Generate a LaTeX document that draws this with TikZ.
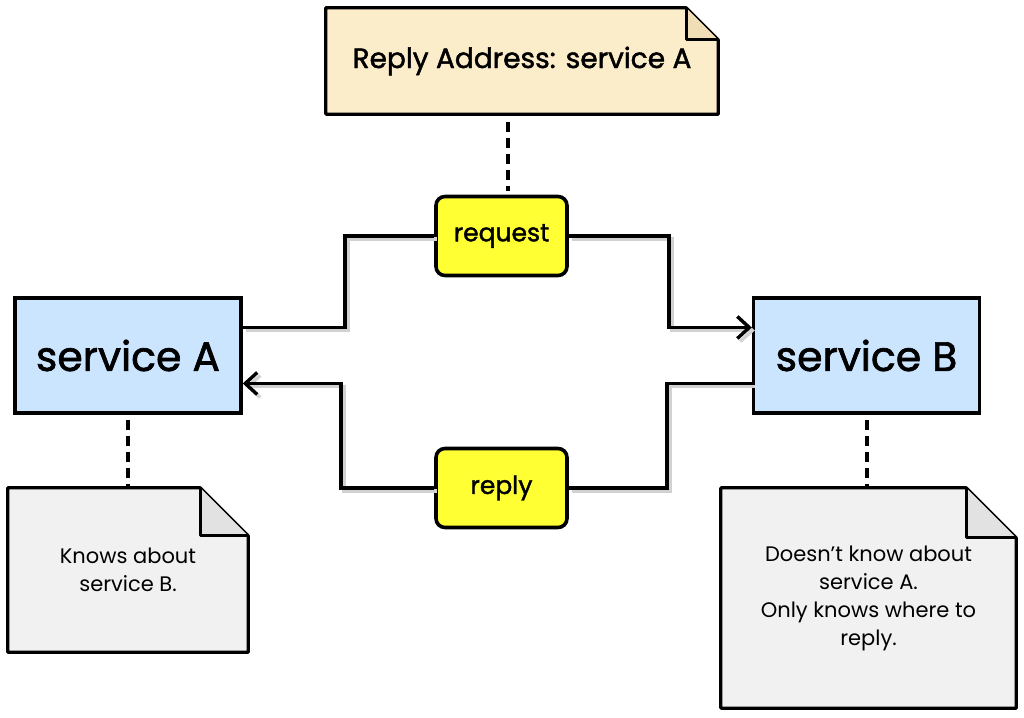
\documentclass[tikz,border=0pt]{standalone}
\usepackage{fontspec}
\setmainfont{Poppins}[BoldFont=Poppins, BoldFeatures={FakeBold=1.6}]
\usetikzlibrary{arrows.meta,calc,backgrounds}

\definecolor{svcblue}{RGB}{204,229,255}
\definecolor{msgyellow}{RGB}{255,255,51}
\definecolor{addrtan}{RGB}{251,236,202}
\definecolor{addrfold}{RGB}{240,222,182}
\definecolor{memogrey}{RGB}{241,241,241}
\definecolor{memofold}{RGB}{226,226,226}

\tikzset{
  svc/.style={draw, line width=3.4pt, fill=svcblue, minimum width=226pt, minimum height=115pt, font=\fontsize{41}{46}\selectfont\bfseries},
  msg/.style={draw, line width=3.6pt, fill=msgyellow, rounded corners=9pt, minimum width=131pt, minimum height=79pt, font=\fontsize{25}{30}\selectfont\bfseries},
  memo/.style={inner sep=0pt, align=center, font=\fontsize{21}{28}\selectfont},
  memo line/.style={line width=3.2pt, line join=round},
  link/.style={line width=3.8pt, preaction={draw=black!18, line width=3.8pt, transform canvas={shift={(3pt,-3pt)}}}},
  tie/.style={line width=4pt, dash pattern=on 10pt off 6pt},
}

% note outline with folded corner: node name, fold size, fill, fold fill
\newcommand{\dogear}[4]{%
  \draw[memo line, fill=#3] (#1.north west) -- ($(#1.north east)+(-#2,0)$) -- ($(#1.north east)+(0,-#2)$) -- (#1.south east) -- (#1.south west) -- cycle;
  \draw[memo line, fill=#4] ($(#1.north east)+(-#2,0)$) -- ($(#1.north east)+(-#2,-#2)$) -- ($(#1.north east)+(0,-#2)$);
}

\begin{document}
\begin{tikzpicture}[x=1pt,y=1pt]
\useasboundingbox (0,0) rectangle (1024,717);

%Services
\node[svc] (svcA) at (128,361.5) {service A};
\node[svc] (svcB) at (866.5,361.5) {service B};

%Messages
\node[msg] (request) at (501.5,481) {request};
\node[msg] (reply) at (501.5,229) {reply};

%Notes
\node[memo, minimum width=392pt, minimum height=106pt, font=\fontsize{28}{32}\selectfont\bfseries] (addr) at (522,656) {Reply Address: service A};
\node[memo, minimum width=240pt, minimum height=164pt] (knowsA) at (128,147) {Knows about\\service B.};
\node[memo, minimum width=295pt, minimum height=220pt] (knowsB) at (868.5,119) {Doesn’t know about\\service A.\\Only knows where to\\reply.};
\begin{scope}[on background layer]
\dogear{addr}{32}{addrtan}{addrfold}
\dogear{knowsA}{48}{memogrey}{memofold}
\dogear{knowsB}{50}{memogrey}{memofold}
\end{scope}

%Request path
\draw[link] ([yshift=28pt]svcA.east) -- ++(102,0) |- (request.west);
\draw[link, -{Straight Barb[length=12pt,width=22pt,line width=3.4pt]}] (request.east) -- ++(100,0) |- ([yshift=28pt]svcB.west);

%Reply path
\draw[link] ([yshift=-28pt]svcB.west) -- ++(-85,0) |- (reply.east);
\draw[link, -{Straight Barb[length=12pt,width=22pt,line width=3.4pt]}] (reply.west) -- ++(-93,0) |- ([yshift=-28pt]svcA.east);

%Dashed ties
\draw[tie, shorten <=8pt, shorten >=4pt] ([xshift=6pt]request.north |- addr.south) -- ([xshift=6pt]request.north);
\draw[tie, shorten <=5pt] (svcA.south) -- (knowsA.north);
\draw[tie, shorten <=5pt] (svcB.south) -- (knowsB.north -| svcB.south);

\end{tikzpicture}
\end{document}
